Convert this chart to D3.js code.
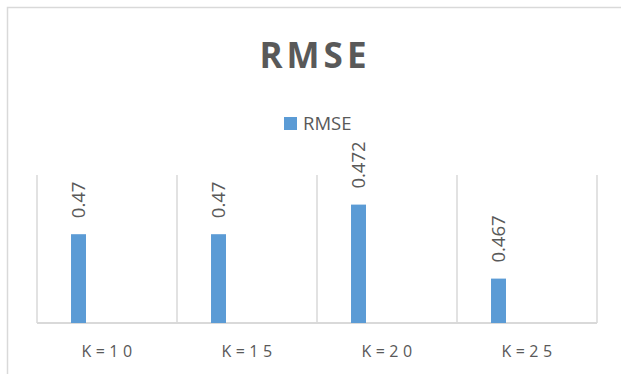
<!DOCTYPE html>
<html>
<head>
<meta charset="utf-8">
<script src="https://cdn.jsdelivr.net/npm/d3@7"></script>
<style>
  body { margin: 0; background: #fff; }
  text { font-family: "Open Sans", "Noto Sans", sans-serif; fill: #595959; }
</style>
</head>
<body>
<svg id="chart"></svg>
<script>
// data
const categories = ['K=10', 'K=15', 'K=20', 'K=25'];
const rmseValues = [0.47, 0.47, 0.472, 0.467];
const valueLabels = ['0.47', '0.47', '0.472', '0.467'];
const seriesName = 'RMSE';
const yDomain = [0.464, 0.474];

const width = 621, height = 374;
const margin = {top: 175, left: 37, right: 24, bottom: 51};
const innerW = width - margin.left - margin.right;
const innerH = height - margin.top - margin.bottom;

const svg = d3.select('#chart')
    .attr('width', width)
    .attr('height', height);

// outer chart frame (runs off the right/bottom edge)
svg.append('rect')
    .attr('x', 7.5).attr('y', 7.5)
    .attr('width', 640).attr('height', 400)
    .attr('fill', 'none')
    .attr('stroke', '#d9d9d9')
    .attr('stroke-width', 1.5);

svg.append('text')
    .attr('x', 315)
    .attr('y', 68)
    .attr('text-anchor', 'middle')
    .style('font-size', '35px')
    .style('font-weight', 'bold')
    .style('letter-spacing', '4px')
    .text('RMSE');

// legend
const legend = svg.append('g').attr('transform', 'translate(284,117)');
legend.append('rect')
    .attr('width', 13).attr('height', 13)
    .attr('fill', '#5b9bd5');
legend.append('text')
    .attr('x', 19).attr('y', 13)
    .style('font-size', '18.5px')
    .text(seriesName);

const chart = svg.append('g')
    .attr('transform', `translate(${margin.left},${margin.top})`);

const xScale = d3.scaleBand()
    .domain(categories)
    .range([0, innerW])
    .padding(0);

const yScale = d3.scaleLinear()
    .domain(yDomain)
    .range([innerH, 0]);

// vertical gridlines at category boundaries
const edges = categories.map(c => xScale(c)).concat([innerW]);
chart.selectAll('.grid')
    .data(edges)
  .join('line')
    .attr('class', 'grid')
    .attr('x1', d => d).attr('x2', d => d)
    .attr('y1', 0).attr('y2', innerH)
    .attr('stroke', '#d9d9d9')
    .attr('stroke-width', 1.5);

// baseline
chart.append('line')
    .attr('x1', 0).attr('x2', innerW)
    .attr('y1', innerH).attr('y2', innerH)
    .attr('stroke', '#d9d9d9')
    .attr('stroke-width', 2);

const barOffset = xScale.bandwidth() * 0.243;
const barW = xScale.bandwidth() * 0.107;

chart.selectAll('.bar')
    .data(rmseValues)
  .join('rect')
    .attr('class', 'bar')
    .attr('x', (d, i) => xScale(categories[i]) + barOffset)
    .attr('y', d => yScale(d))
    .attr('width', barW)
    .attr('height', d => innerH - yScale(d))
    .attr('fill', '#5b9bd5');

// rotated value labels
chart.selectAll('.val')
    .data(rmseValues)
  .join('text')
    .attr('class', 'val')
    .attr('transform', (d, i) => {
      const cx = xScale(categories[i]) + barOffset + barW / 2;
      return `translate(${cx + 6.5},${yScale(d) - 16}) rotate(-90)`;
    })
    .style('font-size', '18.5px')
    .text((d, i) => valueLabels[i]);

// category axis labels
chart.selectAll('.cat')
    .data(categories)
  .join('text')
    .attr('class', 'cat')
    .attr('x', d => xScale(d) + xScale.bandwidth() / 2 + 2)
    .attr('y', innerH + 34)
    .attr('text-anchor', 'middle')
    .style('font-size', '16px')
    .style('letter-spacing', '4.5px')
    .text(d => d);
</script>
</body>
</html>
